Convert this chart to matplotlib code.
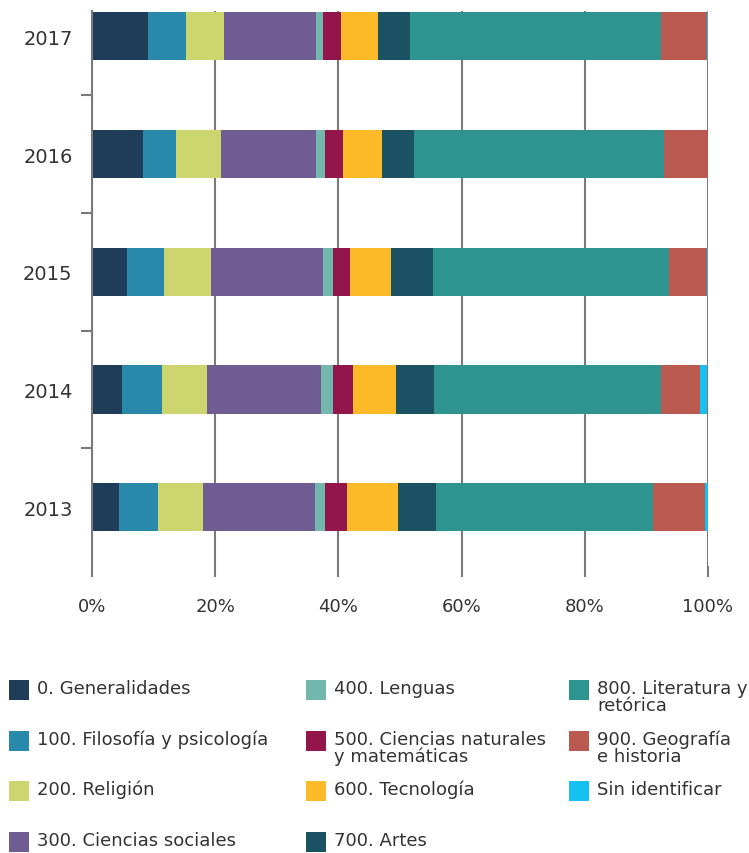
import matplotlib
matplotlib.use("Agg")
import matplotlib.pyplot as plt
import numpy as np
from matplotlib.patches import Rectangle

# Years (bottom to top)
years = ["2013", "2014", "2015", "2016", "2017"]

# Category labels (legend order)
categories = [
    "0. Generalidades",
    "100. Filosofía y psicología",
    "200. Religión",
    "300. Ciencias sociales",
    "400. Lenguas",
    "500. Ciencias naturales\ny matemáticas",
    "600. Tecnología",
    "700. Artes",
    "800. Literatura y\nretórica",
    "900. Geografía\ne historia",
    "Sin identificar",
]

# Percent share per category, for 2013..2017
generalidades = [4.4, 4.9, 5.7, 8.2, 9.1]
filosofia = [6.3, 6.5, 6.0, 5.5, 6.2]
religion = [7.3, 7.3, 7.6, 7.3, 6.2]
sociales = [18.2, 18.5, 18.2, 15.4, 14.9]
lenguas = [1.6, 1.9, 1.6, 1.5, 1.1]
naturales = [3.6, 3.2, 2.8, 2.8, 2.9]
tecnologia = [8.3, 7.0, 6.6, 6.3, 6.0]
artes = [6.2, 6.3, 6.8, 5.2, 5.2]
literatura = [35.2, 36.8, 38.3, 40.6, 40.7]
geografia = [8.4, 6.3, 6.2, 7.2, 7.5]
sin_identificar = [0.5, 1.2, 0.3, 0.2, 0.2]

series = [generalidades, filosofia, religion, sociales, lenguas, naturales,
          tecnologia, artes, literatura, geografia, sin_identificar]

colors = ["#1F3D58", "#2889AA", "#CDD56E", "#6F5C92", "#72B8AF", "#92154C",
          "#FCBA28", "#1A5263", "#2E9490", "#B9594F", "#16C0F0"]

text_color = "#333333"
grid_color = "#7a7a7a"

fig = plt.figure(figsize=(7.49, 8.54), dpi=100)
ax = fig.add_axes([92 / 749, 1 - 567 / 854, 616 / 749, 555 / 854])

y = np.arange(len(years))
bar_h = 0.41
left = np.zeros(len(years))
for vals, col in zip(series, colors):
    ax.barh(y, vals, left=left, height=bar_h, color=col, zorder=3, linewidth=0)
    left += np.array(vals)

ax.set_xlim(0, 100)
ax.set_ylim(-0.5, 4 + bar_h / 2 + 0.01)

ax.set_xticks(np.arange(0, 101, 20))
ax.set_xticklabels([f"{v}%" for v in range(0, 101, 20)])
ax.xaxis.grid(True, color=grid_color, linewidth=1.5, zorder=0)
ax.tick_params(axis="x", length=8, width=1.5, color=grid_color, pad=14,
               labelsize=13, labelcolor=text_color)

ax.set_yticks(y)
ax.set_yticklabels(years)
ax.set_yticks(np.arange(0.5, 4.0, 1.0), minor=True)
ax.tick_params(axis="y", which="major", length=0, pad=14, labelsize=14,
               labelcolor=text_color)
ax.tick_params(axis="y", which="minor", length=8, width=1.5, color=grid_color)

for s in ["top", "right", "bottom"]:
    ax.spines[s].set_visible(False)
ax.spines["left"].set_color(grid_color)
ax.spines["left"].set_linewidth(1.5)
ax.spines["left"].set_zorder(4)

# Legend laid out in three columns (4, 4, 3 items)
col_x = [9, 306, 569]
row_y = [691, 742, 792, 843]
size = 20
for i, (lab, col) in enumerate(zip(categories, colors)):
    c, r = divmod(i, 4)
    px, py = col_x[c], row_y[r]
    fig.add_artist(Rectangle((px / 749, 1 - (py + size / 2) / 854),
                             size / 749, size / 854,
                             transform=fig.transFigure, color=col, lw=0))
    fig.text((px + size + 8) / 749, 1 - (py - 11) / 854, lab, fontsize=13,
             color=text_color, va="top", ha="left", linespacing=0.92)

fig.savefig("out.png", dpi=100)
